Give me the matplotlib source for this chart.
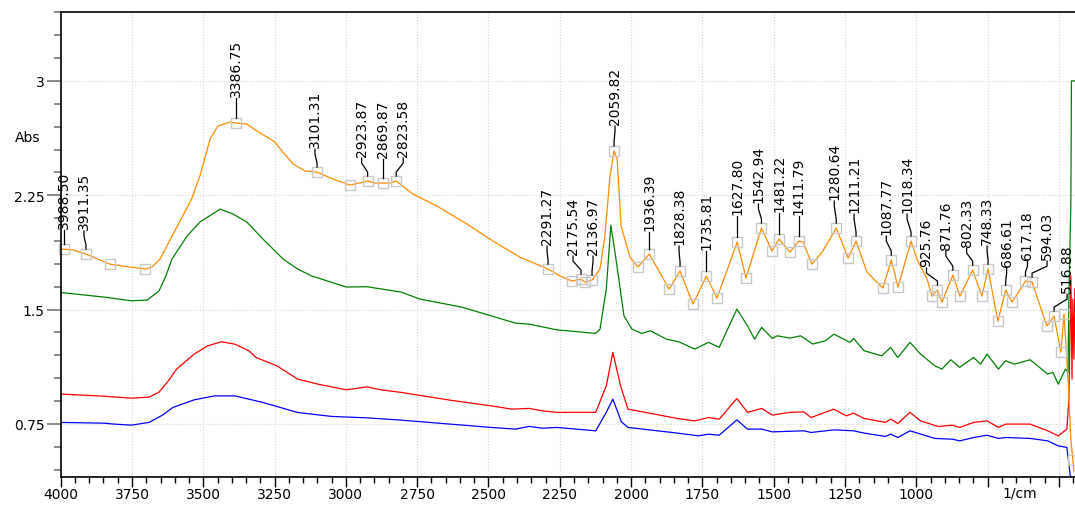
import numpy as np
import matplotlib.pyplot as plt
from matplotlib.ticker import FixedLocator

plt.rcParams['font.family'] = 'DejaVu Sans'
plt.rcParams['font.size'] = 10

# top spectrum (orange), peak picked
wn_o = [4000, 3960, 3911, 3827, 3757, 3704, 3680, 3652, 3541, 3512, 3476, 3449, 3406, 3386.75, 3347, 3312,
        3277, 3249, 3221, 3185, 3143, 3101.31, 3045, 2986, 2923.87, 2898, 2869.87, 2845, 2823.58, 2765,
        2681, 2575, 2484, 2390, 2291.27, 2249, 2207, 2175.54, 2162, 2136.97, 2109, 2092, 2074, 2059.82,
        2049, 2035, 2004, 1976, 1936.39, 1906, 1867, 1828.38, 1783, 1735.81, 1699, 1627.80, 1597, 1542.94,
        1506, 1481.22, 1443, 1411.79, 1397, 1366, 1330, 1280.64, 1239, 1211.21, 1173, 1117, 1087.77, 1064,
        1018.34, 998, 962, 945, 925.76, 910, 871.76, 847, 802.33, 770, 748.33, 714, 686.61, 664, 617.18,
        594.03, 542, 516.88, 493, 482, 468, 458, 447]
abs_o = [1.897, 1.893, 1.864, 1.798, 1.779, 1.766, 1.779, 1.831, 2.225, 2.376, 2.619, 2.704, 2.730, 2.724,
         2.717, 2.671, 2.632, 2.599, 2.533, 2.455, 2.409, 2.402, 2.356, 2.317, 2.343, 2.330, 2.330, 2.330,
         2.343, 2.258, 2.179, 2.061, 1.949, 1.844, 1.766, 1.720, 1.687, 1.700, 1.680, 1.693, 1.766, 1.982,
         2.376, 2.540, 2.487, 2.048, 1.844, 1.779, 1.864, 1.766, 1.634, 1.753, 1.536, 1.720, 1.575, 1.943,
         1.707, 2.035, 1.884, 1.963, 1.877, 1.949, 1.943, 1.798, 1.877, 2.035, 1.838, 1.949, 1.746, 1.641,
         1.825, 1.648, 1.949, 1.831, 1.700, 1.588, 1.628, 1.549, 1.726, 1.588, 1.759, 1.588, 1.766, 1.424,
         1.628, 1.549, 1.687, 1.680, 1.392, 1.457, 1.221, 1.470, 1.044, 0.650, 0.440]

# green
wn_g = [4000, 3848, 3752, 3697, 3655, 3631, 3610, 3557, 3512, 3441, 3396, 3347, 3291, 3220, 3169, 3122,
        2999, 2926, 2807, 2740, 2593, 2491, 2405, 2358, 2260, 2124, 2109, 2087, 2071, 2053, 2025, 1997,
        1963, 1932, 1876, 1833, 1777, 1728, 1691, 1629, 1592, 1567, 1542, 1505, 1487, 1443, 1406, 1363,
        1319, 1289, 1232, 1220, 1183, 1121, 1090, 1065, 1022, 985, 935, 910, 879, 848, 799, 774, 752, 712,
        687, 656, 601, 539, 521, 502, 477, 468, 465, 458, 456, 444]
abs_g = [1.612, 1.582, 1.558, 1.562, 1.623, 1.722, 1.831, 1.982, 2.074, 2.159, 2.127, 2.074, 1.963, 1.831,
         1.766, 1.722, 1.648, 1.650, 1.615, 1.569, 1.516, 1.459, 1.411, 1.405, 1.367, 1.344, 1.372, 1.634,
         2.054, 1.831, 1.459, 1.372, 1.344, 1.361, 1.306, 1.289, 1.241, 1.285, 1.252, 1.503, 1.394, 1.306,
         1.383, 1.311, 1.328, 1.313, 1.328, 1.274, 1.295, 1.339, 1.285, 1.311, 1.230, 1.197, 1.252, 1.186,
         1.285, 1.208, 1.131, 1.110, 1.171, 1.121, 1.186, 1.142, 1.208, 1.110, 1.164, 1.142, 1.171, 1.077,
         1.088, 1.011, 1.110, 1.090, 1.569, 2.2, 3.0, 3.0]

# red
wn_r = [4000, 3848, 3752, 3690, 3655, 3618, 3594, 3532, 3485, 3436, 3389, 3340, 3315, 3242, 3169, 3098,
        2999, 2926, 2878, 2807, 2635, 2491, 2418, 2358, 2310, 2260, 2124, 2087, 2064, 2037, 2011, 1937,
        1838, 1777, 1728, 1691, 1629, 1592, 1542, 1505, 1443, 1394, 1369, 1289, 1245, 1220, 1183, 1108,
        1090, 1065, 1022, 985, 923, 873, 848, 799, 752, 712, 687, 601, 539, 502, 472, 465, 458, 454, 451,
        447, 444]
abs_r = [0.946, 0.932, 0.919, 0.926, 0.959, 1.044, 1.109, 1.208, 1.262, 1.289, 1.273, 1.230, 1.186, 1.131,
         1.044, 1.011, 0.974, 0.993, 0.974, 0.957, 0.906, 0.869, 0.847, 0.852, 0.836, 0.826, 0.826, 1.000,
         1.219, 1.000, 0.847, 0.821, 0.786, 0.770, 0.792, 0.781, 0.917, 0.826, 0.852, 0.808, 0.826, 0.829,
         0.792, 0.847, 0.803, 0.821, 0.786, 0.760, 0.782, 0.753, 0.826, 0.770, 0.733, 0.742, 0.727, 0.760,
         0.770, 0.727, 0.749, 0.749, 0.705, 0.672, 0.716, 0.913, 1.720, 1.044, 1.569, 1.175, 1.635]

# blue
wn_b = [4000, 3848, 3813, 3752, 3690, 3643, 3607, 3532, 3461, 3389, 3291, 3169, 3049, 2926, 2807, 2635,
        2491, 2405, 2358, 2310, 2260, 2124, 2087, 2064, 2034, 2011, 1838, 1764, 1728, 1691, 1629, 1592,
        1542, 1505, 1394, 1369, 1289, 1220, 1183, 1108, 1090, 1065, 1022, 935, 873, 848, 799, 752, 712,
        687, 601, 539, 502, 472, 460, 455]
abs_b = [0.760, 0.755, 0.749, 0.742, 0.760, 0.808, 0.858, 0.908, 0.934, 0.934, 0.891, 0.825, 0.799, 0.790,
         0.775, 0.749, 0.727, 0.716, 0.734, 0.722, 0.727, 0.705, 0.826, 0.913, 0.764, 0.727, 0.690, 0.672,
         0.683, 0.676, 0.777, 0.716, 0.716, 0.698, 0.705, 0.694, 0.711, 0.705, 0.690, 0.668, 0.683, 0.661,
         0.705, 0.655, 0.650, 0.639, 0.661, 0.676, 0.655, 0.661, 0.655, 0.639, 0.606, 0.596, 0.409, 0.40]

# labelled peaks and unlabelled valley marks on the top spectrum
peak_wn = [3988.50, 3911.35, 3386.75, 3101.31, 2923.87, 2869.87, 2823.58, 2291.27, 2175.54, 2136.97,
           2059.82, 1936.39, 1828.38, 1735.81, 1627.80, 1542.94, 1481.22, 1411.79, 1280.64, 1211.21,
           1087.77, 1018.34, 925.76, 871.76, 802.33, 748.33, 686.61, 617.18, 594.03, 516.88]
valley_wn = [3827, 3704, 2986, 2207, 2162, 1976, 1867, 1783, 1699, 1597, 1506, 1443, 1366, 1239, 1117,
             1064, 945, 910, 847, 770, 714, 664, 542, 493, 482, 451]

# label placement (pixels): text shift from peak, and height of text above marker
label_dx = [0, -2, 0, -2, -6, 0, 7, -1, -8, 1, 1, 0, -1, 0, 0, -3, 0, 0, -2, -2,
            -5, -4, -11, -7, -6, -1, 1, 2, 15, 13]
label_h = [21, 25, 27, 25, 25, 26, 25, 25, 25, 26, 27, 24, 27, 27, 28, 26, 28, 27, 29, 29,
           26, 29, 24, 26, 24, 25, 24, 22, 23, 24]

x_major = [4000, 3750, 3500, 3250, 3000, 2750, 2500, 2250, 2000, 1750, 1500, 1250, 1000, 750, 500]
x_labels = ['4000', '3750', '3500', '3250', '3000', '2750', '2500', '2250', '2000', '1750', '1500',
            '1250', '1000', '', '']
y_major = [0.75, 1.5, 2.25, 3]
y_labels = ['0.75', '1.5', '2.25', '3']

W, H = 1075, 506
fig = plt.figure(figsize=(W / 100, H / 100), dpi=100)
ax = fig.add_axes([60.7 / W, 27.7 / H, 1 - 60.7 / W, 465 / H])

ax.plot(wn_b, abs_b, color='#0000ff', lw=0.9)
ax.plot(wn_r, abs_r, color='#ff0000', lw=0.9)
ax.plot(wn_g, abs_g, color='#008000', lw=0.9)
ax.plot(wn_o, abs_o, color='#ff8c00', lw=0.9)

ax.set_xlim(4000, 443.5)
ax.set_ylim(0.4, 3.45)

ax.xaxis.set_major_locator(FixedLocator(x_major))
ax.set_xticklabels(x_labels)
ax.xaxis.set_minor_locator(FixedLocator(np.arange(450, 4001, 50)))
ax.yaxis.set_major_locator(FixedLocator(y_major))
ax.set_yticklabels(y_labels)
ax.yaxis.set_minor_locator(FixedLocator(np.round(np.arange(0.45, 3.46, 0.15), 2)))

ax.tick_params(axis='x', which='major', length=7, width=1, color='black', pad=0, labelsize=10)
ax.tick_params(axis='x', which='minor', length=4, width=1, color='black')
ax.tick_params(axis='y', which='major', length=10, width=1.3, color='#808080', pad=1.5, labelsize=10)
ax.tick_params(axis='y', which='minor', length=5, width=1.3, color='#808080')

ax.grid(which='major', color='#d4d4d4', linestyle=':', lw=0.8)
ax.set_axisbelow(True)
ax.spines['right'].set_visible(False)
for s in ['left', 'bottom', 'top']:
    ax.spines[s].set_linewidth(1.2)
    ax.spines[s].set_color('black')

# peak / valley markers
xo = np.array(wn_o)[::-1]
yo = np.array(abs_o)[::-1]
mk = dict(marker='s', ms=6.5, mfc='none', mec='#c8c8c8', mew=1, ls='none', clip_on=False)
ax.plot(valley_wn, np.interp(valley_wn, xo, yo), **mk)
ax.plot(peak_wn, np.interp(peak_wn, xo, yo), **mk)

# peak labels with leader lines (built in pixel space)
to_px = ax.transData.transform
to_data = ax.transData.inverted().transform
for w, dx, h in zip(peak_wn, label_dx, label_h):
    X, Y = to_px((w, np.interp(w, xo, yo)))
    if dx == 0:
        path = [(X, Y + 5), (X, Y + h - 2)]
    else:
        path = [(X, Y + 5), (X, Y + 9), (X + dx, Y + h - 7), (X + dx, Y + h - 2)]
    pts = to_data(path)
    ax.plot(pts[:, 0], pts[:, 1], color='black', lw=0.9, clip_on=False)
    tx, ty = to_data((X + dx, Y + h))
    ax.text(tx, ty, '%.2f' % w, rotation=90, ha='center', va='bottom', fontsize=10)

fig.text(28 / W, 1 - 138 / H, 'Abs', ha='center', va='center', fontsize=10)
fig.text(1020 / W, 1 - 494 / H, '1/cm', ha='center', va='center', fontsize=10)

fig.savefig('out.png', dpi=100)
